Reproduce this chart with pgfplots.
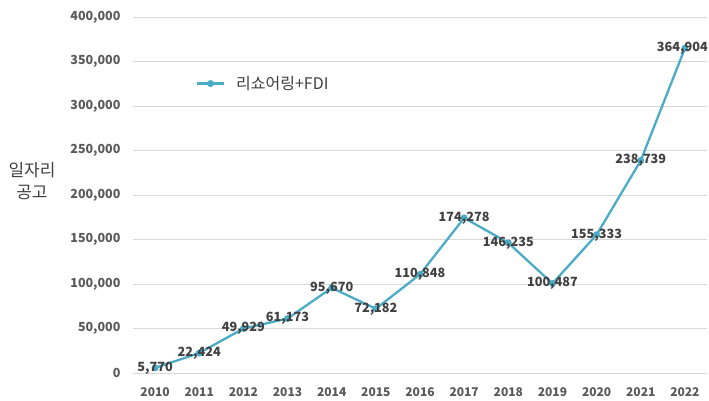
\documentclass[border=0pt]{standalone}
\usepackage{pgfplots}
\pgfplotsset{compat=1.18}
\usepackage{fontspec}
\setmainfont{Noto Sans CJK KR}
\definecolor{linec}{HTML}{4BACC6}
\definecolor{tickc}{HTML}{595959}
\definecolor{labc}{HTML}{404040}
\definecolor{gridc}{HTML}{D9D9D9}
\begin{document}
\begin{tikzpicture}
\path[use as bounding box] (-133pt,-27pt) rectangle (576pt,373pt);
\begin{axis}[
  at={(0,0)}, anchor=south west,
  scale only axis, width=574pt, height=356pt,
  xmin=-0.5, xmax=12.5,
  ymin=0, ymax=400000,
  xtick={0,...,12},
  xticklabels={2010,2011,2012,2013,2014,2015,2016,2017,2018,2019,2020,2021,2022},
  ytick={0,50000,100000,150000,200000,250000,300000,350000,400000},
  yticklabels={0,{50,000},{100,000},{150,000},{200,000},{250,000},{300,000},{350,000},{400,000}},
  scaled y ticks=false,
  ymajorgrids, grid style={gridc, line width=0.8pt},
  axis line style={draw=none},
  major tick length=0pt,
  tick label style={font=\fontsize{12.5}{14}\selectfont\bfseries, text=tickc},
  xticklabel style={font=\fontsize{12}{14}\selectfont\bfseries, yshift=-11pt},
  yticklabel style={xshift=-9pt},
  ylabel={일자리\\공고},
  ylabel style={rotate=-90, align=center, at={(rel axis cs:-0.176,0.54)}, anchor=center, font=\fontsize{17}{22}\selectfont, text=labc},
  legend style={draw=none, fill=none, at={(rel axis cs:0.104,0.813)}, anchor=west, font=\fontsize{16}{19}\selectfont, text=labc},
  legend cell align=left,
  legend image code/.code={\draw[#1, mark repeat=2, mark phase=2] plot coordinates {(0pt,0pt) (13.5pt,0pt) (27pt,0pt)}; \path (36pt,0pt);},
  clip=false,
]
\addplot[color=linec, line width=2.3pt, mark=*, mark size=2.3pt,
  mark options={solid, fill=linec, draw=linec},
  point meta=explicit symbolic,
  nodes near coords,
  nodes near coords align={center},
  visualization depends on={x \as \xx},
  every node near coord/.style={anchor=center, font=\fontsize{12.7}{15}\selectfont\bfseries, text=labc, xshift={-2.5*(\xx>11.5)*1pt}},
] table[meta=lab] {
x y lab
0 5770 5,770
1 22424 22,424
2 49929 49,929
3 61173 61,173
4 95670 95,670
5 72182 72,182
6 110848 110,848
7 174278 174,278
8 146235 146,235
9 100487 100,487
10 155333 155,333
11 238739 238,739
12 364904 364,904
};
\addlegendentry{리쇼어링+FDI}
\end{axis}
\end{tikzpicture}
\end{document}
